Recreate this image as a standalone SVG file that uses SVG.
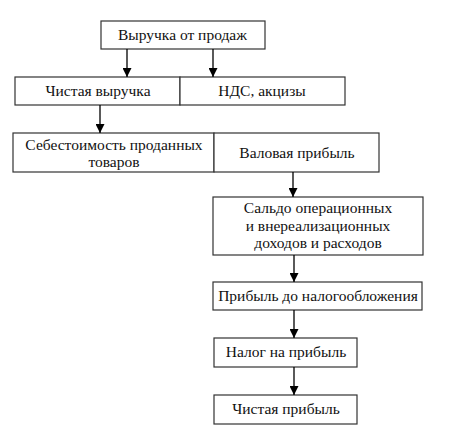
<svg xmlns="http://www.w3.org/2000/svg" width="469" height="436" viewBox="0 0 469 436">
<style>
.b{fill:#fff;stroke:#333;stroke-width:1.2}
.c{stroke:#000;stroke-width:1.3;fill:none}
</style>
<defs>
<marker id="a" viewBox="0 0 10 10" refX="10" refY="5" markerWidth="9" markerHeight="9" markerUnits="userSpaceOnUse" orient="auto">
<path d="M0,0 L10,5 L0,10 Z" fill="#000"/>
</marker>
</defs>
<rect width="469" height="436" fill="#fff"/>
<g id="n1"><rect class="b" x="101" y="21" width="164" height="28"/><text text-anchor="middle" fill="#111" font-family="'Liberation Serif', 'Times New Roman', 'DejaVu Serif', serif" font-size="15.5" x="182.5" y="40">Выручка от продаж</text></g>
<g id="n2"><rect class="b" x="15" y="77" width="165" height="28"/><text text-anchor="middle" fill="#111" font-family="'Liberation Serif', 'Times New Roman', 'DejaVu Serif', serif" font-size="15.5" x="98" y="96">Чистая выручка</text></g>
<g id="n3"><rect class="b" x="180" y="77" width="165" height="28"/><text text-anchor="middle" fill="#111" font-family="'Liberation Serif', 'Times New Roman', 'DejaVu Serif', serif" font-size="15.5" x="262" y="96">НДС, акцизы</text></g>
<g id="n4"><rect class="b" x="13" y="133" width="201" height="39"/><text text-anchor="middle" fill="#111" font-family="'Liberation Serif', 'Times New Roman', 'DejaVu Serif', serif" font-size="15.5" x="114" y="150">Себестоимость проданных</text><text text-anchor="middle" fill="#111" font-family="'Liberation Serif', 'Times New Roman', 'DejaVu Serif', serif" font-size="15.5" x="114" y="167">товаров</text></g>
<g id="n5"><rect class="b" x="214" y="133" width="165" height="39"/><text text-anchor="middle" fill="#111" font-family="'Liberation Serif', 'Times New Roman', 'DejaVu Serif', serif" font-size="15.5" x="297" y="158">Валовая прибыль</text></g>
<g id="n6"><rect class="b" x="213" y="197" width="210" height="58"/><text text-anchor="middle" fill="#111" font-family="'Liberation Serif', 'Times New Roman', 'DejaVu Serif', serif" font-size="15.5" x="318" y="213">Сальдо операционных</text><text text-anchor="middle" fill="#111" font-family="'Liberation Serif', 'Times New Roman', 'DejaVu Serif', serif" font-size="15.5" x="318" y="231">и внереализационных</text><text text-anchor="middle" fill="#111" font-family="'Liberation Serif', 'Times New Roman', 'DejaVu Serif', serif" font-size="15.5" x="318" y="248">доходов и расходов</text></g>
<g id="n7"><rect class="b" x="213" y="282" width="209" height="28"/><text text-anchor="middle" fill="#111" font-family="'Liberation Serif', 'Times New Roman', 'DejaVu Serif', serif" font-size="15.5" x="318" y="301">Прибыль до налогообложения</text></g>
<g id="n8"><rect class="b" x="214" y="338" width="143" height="29"/><text text-anchor="middle" fill="#111" font-family="'Liberation Serif', 'Times New Roman', 'DejaVu Serif', serif" font-size="15.5" x="286" y="357">Налог на прибыль</text></g>
<g id="n9"><rect class="b" x="214" y="395" width="143" height="29"/><text text-anchor="middle" fill="#111" font-family="'Liberation Serif', 'Times New Roman', 'DejaVu Serif', serif" font-size="15.5" x="286" y="414">Чистая прибыль</text></g>
<g id="connectors">
<line class="c" x1="127" y1="49" x2="127" y2="77" marker-end="url(#a)"/>
<line class="c" x1="213" y1="49" x2="213" y2="77" marker-end="url(#a)"/>
<line class="c" x1="100" y1="105" x2="100" y2="133" marker-end="url(#a)"/>
<line class="c" x1="293" y1="172" x2="293" y2="197" marker-end="url(#a)"/>
<line class="c" x1="294" y1="255" x2="294" y2="282" marker-end="url(#a)"/>
<line class="c" x1="294" y1="310" x2="294" y2="338" marker-end="url(#a)"/>
<line class="c" x1="294" y1="367" x2="294" y2="395" marker-end="url(#a)"/>
</g>
</svg>
